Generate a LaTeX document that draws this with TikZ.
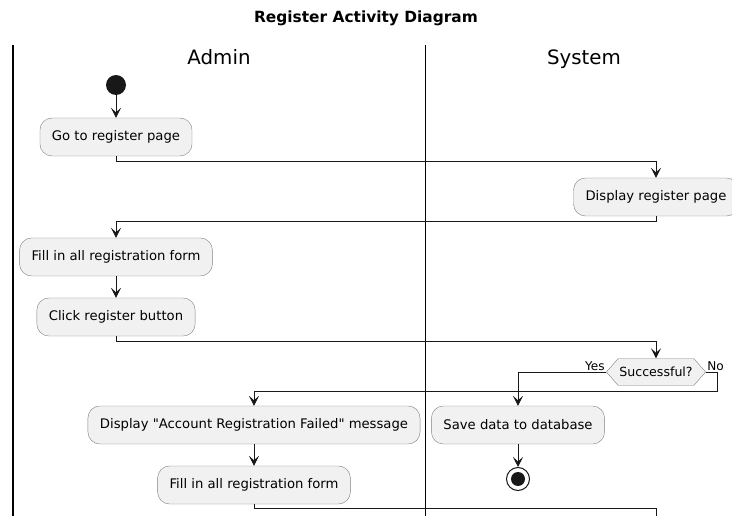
\documentclass[tikz,border=0pt]{standalone}
\usepackage{fontspec}
\setmainfont{DejaVu Sans}[Ligatures=TeXOff]
\usetikzlibrary{arrows.meta,shapes.symbols}

\definecolor{actfill}{HTML}{F1F1F1}
\definecolor{actline}{HTML}{181818}

\begin{document}
\begin{tikzpicture}[x=1pt, y=-1pt, >={Stealth[length=10pt,width=10pt,inset=4.5pt]},
    action/.style={draw=black!50, fill=actfill, rounded corners=12pt, minimum height=38pt, inner xsep=12pt, font=\fontsize{13.2}{16}\selectfont},
    decision/.style={signal, signal to=west and east, signal pointer angle=97, draw=black!50, fill=actfill, minimum height=27pt, inner xsep=1pt, font=\fontsize{12.6}{15}\selectfont},
    lane/.style={anchor=base, font=\fontsize{19.8}{24}\selectfont},
    flow/.style={draw=actline, line width=0.9pt},
    guard/.style={font=\fontsize{12.1}{14}\selectfont, inner sep=1pt}]
    \useasboundingbox (0,0) rectangle (732,516);
    \node[font=\bfseries\fontsize{15.4}{18}\selectfont] (title) at (366,18) {Register Activity Diagram};
    % swimlanes
    \draw[line width=1.6pt] (13,45) -- (13,516);
    \draw[line width=1pt] (425,45) -- (425,516);
    \node[lane] (admin) at (219,65) {Admin};
    \node[lane] (system) at (584,65) {System};
    % activities
    \node[circle, fill=actline, minimum size=20pt, inner sep=0pt] (start) at (116,85) {};
    \node[action] (go) at (116,137) {Go to register page};
    \node[action] (disp) at (656,197) {Display register page};
    \node[action] (fill1) at (116,257) {Fill in all registration form};
    \node[action] (click) at (116,317) {Click register button};
    \node[decision] (ok) at (656,372) {Successful?};
    \node[action] (fail) at (254,425) {Display "Account Registration Failed" message};
    \node[action] (save) at (518,425) {Save data to database};
    \node[action] (fill2) at (254,485) {Fill in all registration form};
    \node[circle, draw=actline, line width=1pt, fill=white, minimum size=23pt, inner sep=0pt] (stop) at (518,479) {};
    \fill[actline] (stop) circle (7);
    % flows
    \draw[flow, ->] (start) -- (go);
    \draw[flow, ->] (go.south) -- ++(0,5) -| (disp.north);
    \draw[flow, ->] (disp.south) -- ++(0,5) -| (fill1.north);
    \draw[flow, ->] (fill1) -- (click);
    \draw[flow, ->] (click.south) -- ++(0,5) -| (ok.north);
    \draw[flow, ->] (ok.west) node[guard, above left] {Yes} -| (save.north);
    \draw[flow, ->] (ok.east) node[guard, above right] {No} -- ++(12,0) -- ++(0,19) -| (fail.north);
    \draw[flow, ->] (fail) -- (fill2);
    \draw[flow, ->] (save) -- (stop);
    \coordinate (cut) at (656,520);
    \draw[flow] (fill2.south) -- ++(0,4) -| (cut);
\end{tikzpicture}
\end{document}
